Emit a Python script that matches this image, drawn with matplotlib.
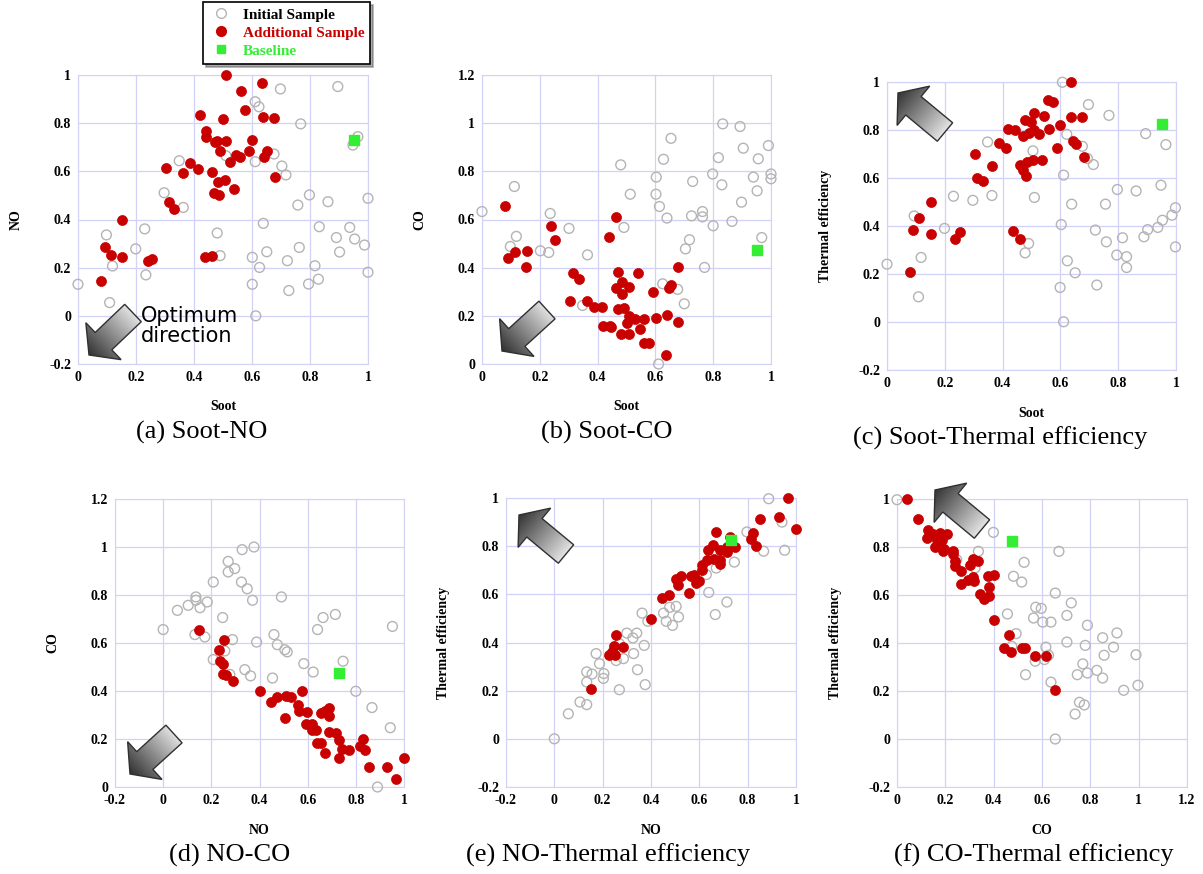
import numpy as np
import matplotlib
matplotlib.use("Agg")
import matplotlib.pyplot as plt
from matplotlib.patches import Polygon
from matplotlib.lines import Line2D
from matplotlib.colors import LinearSegmentedColormap

W, H = 1203, 874

# baseline design (same point in every panel)
BASE_SOOT, BASE_NO, BASE_CO, BASE_TE = 0.95, 0.73, 0.475, 0.825

# (a) Soot-NO
A_ADD = [(0.509, 1.000), (0.636, 0.965), (0.561, 0.934), (0.576, 0.855), (0.420, 0.834), (0.501, 0.816),
         (0.637, 0.827), (0.676, 0.820), (0.443, 0.769), (0.441, 0.741), (0.472, 0.720), (0.480, 0.727),
         (0.509, 0.727), (0.601, 0.730), (0.490, 0.686), (0.589, 0.686), (0.651, 0.686), (0.544, 0.668),
         (0.559, 0.658), (0.643, 0.661), (0.524, 0.637), (0.305, 0.614), (0.386, 0.633), (0.415, 0.608),
         (0.363, 0.592), (0.461, 0.596), (0.484, 0.556), (0.508, 0.564), (0.681, 0.578), (0.537, 0.525),
         (0.470, 0.511), (0.486, 0.503), (0.313, 0.471), (0.332, 0.444), (0.152, 0.398), (0.092, 0.284),
         (0.113, 0.254), (0.153, 0.246), (0.240, 0.228), (0.255, 0.235), (0.438, 0.243), (0.463, 0.248),
         (0.081, 0.146)]
A_INIT = [(0.896, 0.952), (0.698, 0.942), (0.611, 0.889), (0.624, 0.868), (0.768, 0.797), (0.965, 0.744),
          (0.948, 0.709), (0.510, 0.665), (0.676, 0.672), (0.611, 0.640), (0.349, 0.644), (0.703, 0.622),
          (0.717, 0.585), (0.297, 0.511), (0.363, 0.450), (0.798, 0.502), (0.758, 0.460), (0.862, 0.474),
          (1.000, 0.488), (0.639, 0.384), (0.832, 0.370), (0.937, 0.367), (0.098, 0.336), (0.230, 0.361),
          (0.480, 0.344), (0.891, 0.325), (0.954, 0.319), (0.988, 0.294), (0.199, 0.278), (0.490, 0.250),
          (0.651, 0.266), (0.763, 0.284), (0.902, 0.265), (0.601, 0.243), (0.722, 0.229), (0.119, 0.207),
          (0.626, 0.201), (0.817, 0.208), (0.234, 0.170), (1.000, 0.181), (0.829, 0.152), (0.000, 0.131),
          (0.601, 0.131), (0.795, 0.132), (0.727, 0.105), (0.109, 0.055), (0.613, 0.000)]

# (b) Soot-CO
B_ADD = [(0.081, 0.654), (0.239, 0.571), (0.254, 0.513), (0.465, 0.612), (0.439, 0.527), (0.090, 0.441),
         (0.113, 0.463), (0.154, 0.470), (0.151, 0.402), (0.314, 0.377), (0.334, 0.354), (0.306, 0.263),
         (0.364, 0.263), (0.387, 0.238), (0.416, 0.238), (0.420, 0.156), (0.442, 0.159), (0.447, 0.152),
         (0.472, 0.380), (0.464, 0.314), (0.483, 0.341), (0.486, 0.290), (0.509, 0.318), (0.472, 0.228),
         (0.491, 0.234), (0.480, 0.124), (0.509, 0.124), (0.508, 0.198), (0.500, 0.170), (0.529, 0.188),
         (0.539, 0.377), (0.545, 0.147), (0.562, 0.188), (0.561, 0.087), (0.579, 0.087), (0.590, 0.299),
         (0.602, 0.189), (0.639, 0.202), (0.647, 0.315), (0.655, 0.329), (0.679, 0.402), (0.677, 0.174),
         (0.637, 0.039)]
B_INIT = [(0.833, 0.997), (0.893, 0.986), (0.654, 0.937), (0.991, 0.907), (0.904, 0.896), (0.628, 0.850),
          (0.818, 0.857), (0.956, 0.852), (0.480, 0.827), (0.798, 0.789), (1.000, 0.789), (1.000, 0.769),
          (0.939, 0.776), (0.112, 0.737), (0.603, 0.776), (0.729, 0.758), (0.830, 0.744), (0.952, 0.719),
          (0.513, 0.705), (0.602, 0.705), (0.614, 0.654), (0.898, 0.672), (0.000, 0.633), (0.236, 0.625),
          (0.763, 0.633), (0.640, 0.606), (0.725, 0.615), (0.763, 0.611), (0.865, 0.592), (0.301, 0.563),
          (0.491, 0.567), (0.800, 0.574), (0.119, 0.530), (0.968, 0.525), (0.718, 0.516), (0.098, 0.488),
          (0.202, 0.470), (0.231, 0.463), (0.365, 0.453), (0.704, 0.478), (0.770, 0.401), (0.625, 0.333),
          (0.677, 0.310), (0.700, 0.250), (0.348, 0.243), (0.611, 0.000)]

# (c) Soot-Thermal efficiency
C_ADD = [(0.636, 1.000), (0.558, 0.924), (0.576, 0.917), (0.507, 0.871), (0.544, 0.858), (0.636, 0.854),
         (0.676, 0.854), (0.478, 0.840), (0.499, 0.834), (0.419, 0.803), (0.444, 0.799), (0.599, 0.820),
         (0.560, 0.803), (0.507, 0.802), (0.491, 0.788), (0.469, 0.775), (0.525, 0.785), (0.386, 0.746),
         (0.412, 0.725), (0.642, 0.753), (0.653, 0.743), (0.588, 0.727), (0.680, 0.688), (0.303, 0.702),
         (0.537, 0.677), (0.505, 0.677), (0.484, 0.667), (0.461, 0.656), (0.470, 0.635), (0.482, 0.607),
         (0.363, 0.650), (0.311, 0.600), (0.332, 0.588), (0.152, 0.501), (0.111, 0.435), (0.090, 0.383),
         (0.153, 0.365), (0.253, 0.374), (0.236, 0.347), (0.437, 0.381), (0.461, 0.347), (0.078, 0.208)]
C_INIT = [(0.607, 0.999), (0.697, 0.906), (0.768, 0.861), (0.895, 0.785), (0.965, 0.739), (0.622, 0.782),
          (0.676, 0.732), (0.348, 0.750), (0.505, 0.713), (0.694, 0.681), (0.714, 0.656), (0.611, 0.612),
          (0.230, 0.524), (0.363, 0.527), (0.297, 0.507), (0.510, 0.519), (0.797, 0.552), (0.862, 0.546),
          (0.948, 0.570), (0.639, 0.491), (0.756, 0.491), (0.998, 0.476), (0.986, 0.445), (0.953, 0.424),
          (0.937, 0.394), (0.902, 0.385), (0.889, 0.355), (0.998, 0.313), (0.094, 0.442), (0.199, 0.390),
          (0.603, 0.406), (0.721, 0.383), (0.490, 0.327), (0.478, 0.288), (0.759, 0.334), (0.815, 0.351),
          (0.795, 0.279), (0.829, 0.272), (0.829, 0.227), (0.624, 0.255), (0.651, 0.205), (0.118, 0.269),
          (0.000, 0.241), (0.599, 0.144), (0.726, 0.154), (0.109, 0.105), (0.611, 0.001)]

# (d) NO-CO
D_ADD = [(0.150, 0.653), (0.253, 0.614), (0.231, 0.569), (0.238, 0.525), (0.247, 0.514), (0.249, 0.469),
         (0.260, 0.465), (0.288, 0.442), (0.401, 0.400), (0.578, 0.400), (0.446, 0.354), (0.473, 0.375),
         (0.512, 0.378), (0.529, 0.375), (0.505, 0.289), (0.558, 0.343), (0.565, 0.317), (0.598, 0.313),
         (0.592, 0.264), (0.616, 0.264), (0.616, 0.236), (0.634, 0.236), (0.639, 0.185), (0.657, 0.185),
         (0.671, 0.143), (0.657, 0.310), (0.671, 0.317), (0.689, 0.331), (0.689, 0.296), (0.689, 0.229),
         (0.719, 0.225), (0.730, 0.194), (0.744, 0.160), (0.770, 0.153), (0.729, 0.122), (0.830, 0.201),
         (0.816, 0.169), (0.837, 0.156), (0.855, 0.083), (0.931, 0.083), (0.968, 0.035), (1.000, 0.122)]
D_INIT = [(0.377, 1.000), (0.328, 0.989), (0.270, 0.940), (0.270, 0.896), (0.297, 0.910), (0.208, 0.854),
          (0.325, 0.854), (0.349, 0.826), (0.491, 0.792), (0.136, 0.792), (0.136, 0.778), (0.183, 0.771),
          (0.104, 0.757), (0.153, 0.747), (0.371, 0.778), (0.059, 0.736), (0.247, 0.706), (0.664, 0.706),
          (0.715, 0.719), (0.952, 0.669), (0.000, 0.656), (0.641, 0.656), (0.132, 0.635), (0.173, 0.625),
          (0.288, 0.614), (0.460, 0.635), (0.388, 0.604), (0.474, 0.593), (0.505, 0.572), (0.515, 0.563),
          (0.256, 0.567), (0.208, 0.531), (0.339, 0.489), (0.363, 0.463), (0.277, 0.469), (0.454, 0.454),
          (0.584, 0.514), (0.623, 0.479), (0.747, 0.524), (0.800, 0.399), (0.867, 0.331), (0.943, 0.247),
          (0.890, 0.000)]

# (e) NO-Thermal efficiency
E_ADD = [(0.967, 1.000), (0.931, 0.921), (0.852, 0.914), (1.000, 0.871), (0.670, 0.857), (0.822, 0.855),
         (0.726, 0.837), (0.814, 0.830), (0.836, 0.802), (0.746, 0.795), (0.714, 0.795), (0.656, 0.803),
         (0.634, 0.783), (0.686, 0.783), (0.716, 0.776), (0.662, 0.748), (0.631, 0.744), (0.686, 0.741),
         (0.686, 0.726), (0.610, 0.723), (0.613, 0.702), (0.597, 0.654), (0.586, 0.647), (0.579, 0.682),
         (0.565, 0.675), (0.525, 0.678), (0.505, 0.665), (0.512, 0.637), (0.557, 0.606), (0.474, 0.599),
         (0.445, 0.585), (0.399, 0.498), (0.256, 0.433), (0.245, 0.384), (0.238, 0.359), (0.228, 0.347),
         (0.252, 0.347), (0.286, 0.381), (0.151, 0.207)]
E_INIT = [(0.887, 0.997), (0.942, 0.900), (0.797, 0.859), (0.866, 0.779), (0.953, 0.783), (0.745, 0.734),
          (0.670, 0.709), (0.629, 0.682), (0.639, 0.608), (0.714, 0.568), (0.666, 0.516), (0.363, 0.522),
          (0.452, 0.522), (0.477, 0.546), (0.504, 0.550), (0.514, 0.506), (0.463, 0.488), (0.489, 0.471),
          (0.387, 0.488), (0.300, 0.439), (0.341, 0.439), (0.325, 0.419), (0.372, 0.388), (0.269, 0.395),
          (0.328, 0.354), (0.173, 0.354), (0.187, 0.312), (0.286, 0.333), (0.256, 0.325), (0.205, 0.271),
          (0.203, 0.251), (0.344, 0.287), (0.134, 0.278), (0.156, 0.269), (0.134, 0.236), (0.269, 0.204),
          (0.376, 0.225), (0.106, 0.153), (0.134, 0.142), (0.058, 0.104), (0.000, 0.000)]

# (f) CO-Thermal efficiency
F_ADD = [(0.040, 1.000), (0.088, 0.918), (0.127, 0.869), (0.126, 0.838), (0.151, 0.856), (0.178, 0.858),
         (0.206, 0.856), (0.164, 0.828), (0.185, 0.831), (0.157, 0.799), (0.178, 0.803), (0.195, 0.792),
         (0.189, 0.782), (0.231, 0.782), (0.233, 0.772), (0.240, 0.743), (0.240, 0.722), (0.264, 0.699),
         (0.264, 0.647), (0.302, 0.726), (0.316, 0.751), (0.337, 0.743), (0.295, 0.664), (0.316, 0.674),
         (0.319, 0.657), (0.344, 0.606), (0.358, 0.585), (0.381, 0.597), (0.381, 0.633), (0.378, 0.678),
         (0.403, 0.685), (0.403, 0.497), (0.465, 0.432), (0.443, 0.379), (0.472, 0.361), (0.516, 0.379),
         (0.530, 0.379), (0.572, 0.344), (0.616, 0.344), (0.655, 0.206)]
F_INIT = [(0.000, 0.997), (0.399, 0.861), (0.670, 0.782), (0.337, 0.782), (0.526, 0.736), (0.482, 0.678),
          (0.516, 0.654), (0.247, 0.747), (0.323, 0.713), (0.655, 0.608), (0.721, 0.567), (0.574, 0.549),
          (0.597, 0.544), (0.703, 0.515), (0.457, 0.521), (0.565, 0.504), (0.603, 0.487), (0.637, 0.487),
          (0.788, 0.474), (0.493, 0.439), (0.910, 0.442), (0.851, 0.422), (0.896, 0.383), (0.779, 0.390),
          (0.703, 0.404), (0.616, 0.383), (0.475, 0.386), (0.857, 0.349), (0.989, 0.351), (0.627, 0.349),
          (0.610, 0.331), (0.572, 0.324), (0.769, 0.313), (0.746, 0.268), (0.788, 0.275), (0.827, 0.286),
          (0.851, 0.254), (0.532, 0.268), (0.637, 0.237), (0.997, 0.224), (0.938, 0.203), (0.755, 0.153),
          (0.775, 0.142), (0.737, 0.104), (0.655, 0.000)]

LEGEND_LABELS = ["Initial Sample", "Additional Sample", "Baseline"]

RED = "#c80000"
GRAY = "#b4b4b4"
GREEN = "#33ee33"
GRID = "#d2d2f6"
SERIF = "Liberation Serif"

# panel: (init, add, baseline, xlabel, ylabel, xlim, ylim, caption,
#         axes box in px [left, top, right, bottom], caption centre x, arrow tail, arrow tip)
panels = [
    (A_INIT, A_ADD, (BASE_SOOT, BASE_NO), "Soot", "NO", (0, 1), (-0.2, 1), "(a) Soot-NO",
     (78, 75, 368, 364), 202, (133, 313), (89, 355)),
    (B_INIT, B_ADD, (BASE_SOOT, BASE_CO), "Soot", "CO", (0, 1), (0, 1.2), "(b) Soot-CO",
     (482, 75, 771, 364), 607, (547, 310), (502, 351)),
    (C_INIT, C_ADD, (BASE_SOOT, BASE_TE), "Soot", "Thermal efficiency", (0, 1), (-0.2, 1),
     "(c) Soot-Thermal efficiency", (887, 82, 1176, 370), 1000, (945, 132), (898, 93)),
    (D_INIT, D_ADD, (BASE_NO, BASE_CO), "NO", "CO", (-0.2, 1), (0, 1.2), "(d) NO-CO",
     (115, 499, 404, 787), 230, (174, 734), (130, 774)),
    (E_INIT, E_ADD, (BASE_NO, BASE_TE), "NO", "Thermal efficiency", (-0.2, 1), (-0.2, 1),
     "(e) NO-Thermal efficiency", (506, 498, 796, 787), 608, (566, 554), (519, 515)),
    (F_INIT, F_ADD, (BASE_CO, BASE_TE), "CO", "Thermal efficiency", (0, 1.2), (-0.2, 1),
     "(f) CO-Thermal efficiency", (897, 499, 1187, 787), 1034, (982, 529), (935, 490)),
]


def fmt(v, pos=None):
    return "%g" % round(v, 2)


fig = plt.figure(figsize=(W / 100, H / 100), dpi=100)
fig.patch.set_facecolor("white")

for init, add, base, xl, yl, xlim, ylim, cap, box, capx, tail, tip in panels:
    l, t, r, b = box
    ax = fig.add_axes([l / W, 1 - b / H, (r - l) / W, (b - t) / H])
    ix, iy = np.array(init).T
    adx, ady = np.array(add).T
    ax.scatter(ix, iy, s=50, facecolors="none", edgecolors=GRAY, linewidths=1.0, zorder=3, clip_on=False)
    ax.scatter(adx, ady, s=52, color=RED, edgecolors=RED, linewidths=0.5, zorder=4, clip_on=False)
    ax.scatter([base[0]], [base[1]], s=50, marker="s", color=GREEN, zorder=5, clip_on=False)
    ax.set_xlim(*xlim)
    ax.set_ylim(*ylim)
    ax.set_xticks(np.arange(xlim[0], xlim[1] + 0.01, 0.2))
    ax.set_yticks(np.arange(ylim[0], ylim[1] + 0.01, 0.2))
    ax.xaxis.set_major_formatter(fmt)
    ax.yaxis.set_major_formatter(fmt)
    ax.grid(True, color=GRID, linewidth=0.9)
    ax.set_axisbelow(True)
    for sp in ax.spines.values():
        sp.set_color(GRID)
    ax.tick_params(length=0, labelsize=10, pad=5)
    for lab in ax.get_xticklabels() + ax.get_yticklabels():
        lab.set_fontfamily(SERIF)
        lab.set_fontweight("bold")
    ax.set_xlabel(xl, fontfamily=SERIF, fontweight="bold", fontsize=10, va="center")
    ax.set_ylabel(yl, fontfamily=SERIF, fontweight="bold", fontsize=10, va="center")
    ax.xaxis.set_label_coords(0.5, -43 / (b - t))
    ax.yaxis.set_label_coords(-62 / (r - l), 0.5)
    fig.text(capx / W, 1 - (b + 68) / H, cap, fontfamily=SERIF, fontsize=19, ha="center", va="center")

# overlay in pixel coordinates for the direction arrows
ov = fig.add_axes([0, 0, 1, 1], zorder=10)
ov.axis("off")
ov.patch.set_alpha(0)
cmap = LinearSegmentedColormap.from_list("arr", ["#333333", "#8a8a8a", "#e2e2e2"])

for *_, tail, tip in panels:
    T = np.array(tail, float)
    P = np.array(tip, float)
    u = (P - T) / np.linalg.norm(P - T)
    n = np.array([-u[1], u[0]])
    w, h, L = 12.0, 25.5, 20.0
    B = P - u * L
    verts = [T + n * w, B + n * w, B + n * h, P, B - n * h, B - n * w, T - n * w]
    poly = Polygon(verts, closed=True, facecolor="none", edgecolor="#303030", linewidth=1.0, zorder=12)
    ov.add_patch(poly)
    vs = np.array(verts)
    x0, y0 = vs.min(axis=0) - 2
    x1, y1 = vs.max(axis=0) + 2
    gx, gy = np.meshgrid(np.linspace(x0, x1, 80), np.linspace(y0, y1, 80))
    proj = (gx - P[0]) * (-u[0]) + (gy - P[1]) * (-u[1])
    grad = np.clip(proj / np.linalg.norm(P - T), 0, 1)
    im = ov.imshow(grad, cmap=cmap, extent=(x0, x1, y0, y1), origin="lower",
                   aspect="auto", zorder=11, interpolation="bilinear")
    im.set_clip_path(poly)
ov.set_xlim(0, W)
ov.set_ylim(H, 0)

ov.text(141, 326, "Optimum\ndirection", fontfamily="DejaVu Sans", fontsize=15,
        ha="left", va="center", linespacing=1.0, zorder=13)

handles = [
    Line2D([], [], linestyle="none", marker="o", markersize=7, markerfacecolor="none",
           markeredgecolor=GRAY),
    Line2D([], [], linestyle="none", marker="o", markersize=7, color=RED),
    Line2D([], [], linestyle="none", marker="s", markersize=6, color=GREEN),
]
leg = fig.legend(handles, LEGEND_LABELS, loc="upper left", bbox_to_anchor=(203 / W, 1 - 2 / H),
                 borderaxespad=0, frameon=True, fancybox=False, edgecolor="black",
                 shadow={"ox": 2, "oy": -2, "color": "0.35"},
                 prop={"family": SERIF, "weight": "bold", "size": 11},
                 labelspacing=0.28, handletextpad=0.6, handlelength=1.6, borderpad=0.4)
leg.get_frame().set_linewidth(1.2)
for txt, c in zip(leg.get_texts(), ["black", RED, GREEN]):
    txt.set_color(c)

fig.savefig("out.png", dpi=100)
